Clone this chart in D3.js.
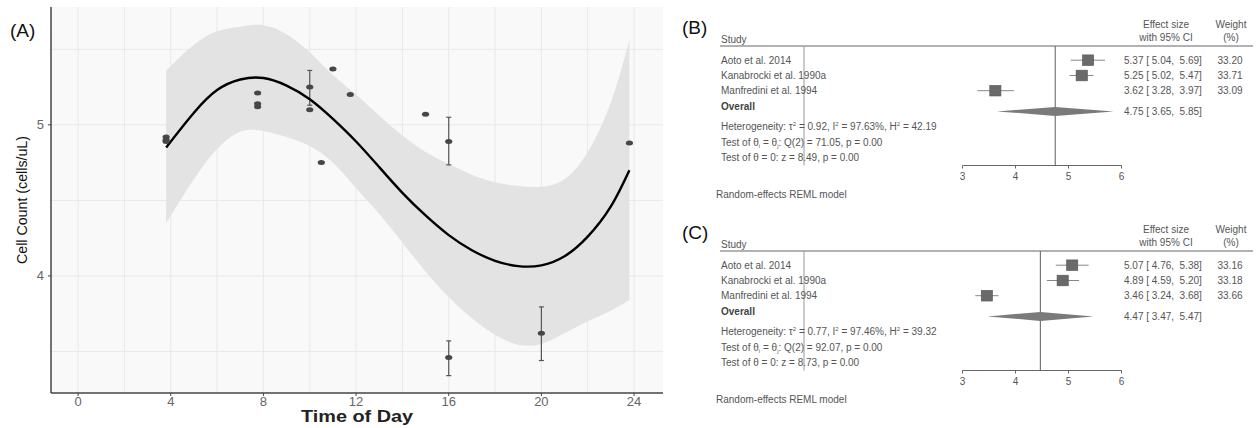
<!DOCTYPE html>
<html>
<head>
<meta charset="utf-8">
<script src="https://cdn.jsdelivr.net/npm/d3@7"></script>
<style>
  body { margin: 0; background: #fff; }
  svg { display: block; font-family: "Liberation Sans", Arial, sans-serif; }
</style>
</head>
<body>
<svg id="chart" width="1256" height="428"></svg>
<script>
// ---- panel A data ----
const hours = [3.8, 5, 6, 7, 8, 9, 10, 11, 12, 13, 14, 15, 16, 17, 18, 19, 20, 21, 22, 23, 23.8];
const fitCount = [4.85, 5.08, 5.23, 5.30, 5.31, 5.26, 5.17, 5.04, 4.89, 4.72, 4.55, 4.40, 4.27, 4.17, 4.10, 4.065, 4.07, 4.13, 4.26, 4.46, 4.70];
const upperCount = [5.36, 5.53, 5.62, 5.65, 5.66, 5.60, 5.48, 5.33, 5.20, 5.06, 4.93, 4.82, 4.74, 4.67, 4.62, 4.595, 4.59, 4.64, 4.82, 5.15, 5.56];
const lowerCount = [4.35, 4.64, 4.84, 4.955, 4.96, 4.92, 4.86, 4.75, 4.58, 4.41, 4.22, 4.03, 3.86, 3.72, 3.61, 3.545, 3.55, 3.62, 3.70, 3.77, 3.84];

const obsTime = [3.8, 3.8, 3.8, 7.75, 7.75, 7.75, 10, 10, 10.5, 11, 11.75, 15, 16, 16, 20, 23.8];
const obsCount = [4.92, 4.90, 4.89, 5.21, 5.14, 5.12, 5.25, 5.10, 4.75, 5.37, 5.20, 5.07, 4.89, 3.46, 3.62, 4.88];
const obsLow = [null, null, null, null, null, null, 5.13, null, null, null, null, null, 4.735, 3.34, 3.44, null];
const obsHigh = [null, null, null, null, null, null, 5.36, null, null, null, null, null, 5.05, 3.57, 3.795, null];

const xTicks = [0, 4, 8, 12, 16, 20, 24];
const yTicks = [4, 5];

// ---- panels B and C data ----
const studies = ["Aoto et al. 2014", "Kanabrocki et al. 1990a", "Manfredini et al. 1994"];
const estB = [5.37, 5.25, 3.62], lowB = [5.04, 5.02, 3.28], highB = [5.69, 5.47, 3.97];
const weightB = [33.20, 33.71, 33.09];
const overallB = [4.75, 3.65, 5.85];
const statsB = ["0.92", "97.63%", "42.19", "71.05", "8.49"];

const estC = [5.07, 4.89, 3.46], lowC = [4.76, 4.59, 3.24], highC = [5.38, 5.20, 3.68];
const weightC = [33.16, 33.18, 33.66];
const overallC = [4.47, 3.47, 5.47];
const statsC = ["0.77", "97.46%", "39.32", "92.07", "8.73"];

const forestTicks = [3, 4, 5, 6];

const svg = d3.select("#chart");

// ================= Panel A =================
const A = { left: 51, right: 663, top: 7, bottom: 393 };
const x = d3.scaleLinear().domain([-1.17, 25.25]).range([A.left, A.right]);
const y = d3.scaleLinear().domain([3.225, 5.78]).range([A.bottom, A.top]);

const gA = svg.append("g");
gA.append("rect")
  .attr("x", A.left).attr("y", A.top)
  .attr("width", A.right - A.left).attr("height", A.bottom - A.top)
  .attr("fill", "#f9f9f9");

// grid (major + minor)
const xGrid = d3.range(0, 26, 2);
const yGrid = [3.5, 4, 4.5, 5, 5.5];
gA.append("g").selectAll("line").data(xGrid).join("line")
  .attr("x1", d => x(d)).attr("x2", d => x(d))
  .attr("y1", A.top).attr("y2", A.bottom)
  .attr("stroke", "#e8e8e8").attr("stroke-width", 1);
gA.append("g").selectAll("line").data(yGrid).join("line")
  .attr("x1", A.left).attr("x2", A.right)
  .attr("y1", d => y(d)).attr("y2", d => y(d))
  .attr("stroke", "#e8e8e8").attr("stroke-width", 1);

// confidence band
const band = hours.map((h, i) => ({ h, lo: lowerCount[i], hi: upperCount[i], fit: fitCount[i] }));
gA.append("path")
  .datum(band)
  .attr("fill", "#e3e3e3")
  .attr("d", d3.area().x(d => x(d.h)).y0(d => y(d.lo)).y1(d => y(d.hi)).curve(d3.curveNatural));

// error bars
const obs = obsTime.map((t, i) => ({ t, v: obsCount[i], lo: obsLow[i], hi: obsHigh[i] }));
const withErr = obs.filter(d => d.lo != null);
const eb = gA.append("g").attr("stroke", "#555").attr("stroke-width", 1.2);
eb.selectAll(".v").data(withErr).join("line")
  .attr("x1", d => x(d.t)).attr("x2", d => x(d.t))
  .attr("y1", d => y(d.lo)).attr("y2", d => y(d.hi));
eb.selectAll(".c1").data(withErr).join("line")
  .attr("x1", d => x(d.t) - 2.5).attr("x2", d => x(d.t) + 2.5)
  .attr("y1", d => y(d.lo)).attr("y2", d => y(d.lo));
eb.selectAll(".c2").data(withErr).join("line")
  .attr("x1", d => x(d.t) - 2.5).attr("x2", d => x(d.t) + 2.5)
  .attr("y1", d => y(d.hi)).attr("y2", d => y(d.hi));

// fitted curve
gA.append("path")
  .datum(band)
  .attr("fill", "none").attr("stroke", "#000").attr("stroke-width", 2.4)
  .attr("d", d3.line().x(d => x(d.h)).y(d => y(d.fit)).curve(d3.curveNatural));

// points
gA.append("g").selectAll("ellipse").data(obs).join("ellipse")
  .attr("cx", d => x(d.t)).attr("cy", d => y(d.v))
  .attr("rx", 3.6).attr("ry", 2.5)
  .attr("fill", "#464646");

// axes
gA.append("line").attr("x1", A.left).attr("x2", A.left).attr("y1", A.top).attr("y2", A.bottom)
  .attr("stroke", "#444").attr("stroke-width", 1.5);
gA.append("line").attr("x1", A.left).attr("x2", A.right).attr("y1", A.bottom).attr("y2", A.bottom)
  .attr("stroke", "#444").attr("stroke-width", 1.5);

const xt = gA.append("g").selectAll("g").data(xTicks).join("g");
xt.append("line").attr("x1", d => x(d)).attr("x2", d => x(d))
  .attr("y1", A.bottom).attr("y2", A.bottom + 3).attr("stroke", "#444");
xt.append("text").attr("x", d => x(d)).attr("y", A.bottom + 13)
  .attr("text-anchor", "middle").attr("font-size", 13).attr("fill", "#666")
  .text(d => d);

const yt = gA.append("g").selectAll("g").data(yTicks).join("g");
yt.append("line").attr("x1", A.left - 3).attr("x2", A.left)
  .attr("y1", d => y(d)).attr("y2", d => y(d)).attr("stroke", "#444");
yt.append("text").attr("x", A.left - 7).attr("y", d => y(d) + 4.5)
  .attr("text-anchor", "end").attr("font-size", 13).attr("fill", "#666")
  .text(d => d);

gA.append("text").attr("x", 301).attr("y", 422)
  .attr("font-size", 16).attr("font-weight", "bold").attr("fill", "#222")
  .attr("textLength", 112).attr("lengthAdjust", "spacingAndGlyphs")
  .text("Time of Day");
gA.append("text").attr("transform", `translate(27,200) rotate(-90)`)
  .attr("text-anchor", "middle").attr("font-size", 15).attr("fill", "#111")
  .attr("textLength", 128).attr("lengthAdjust", "spacingAndGlyphs")
  .text("Cell Count (cells/uL)");
gA.append("text").attr("x", 10).attr("y", 37).attr("font-size", 19).attr("fill", "#111").text("(A)");

// ================= Forest plots =================
const fx = d3.scaleLinear().domain([3, 6]).range([962.5, 1121.5]);
const rowOff = [14.2, 29.5, 44.7];
const overallOff = 64.4;
const statOff = [80, 96, 111.3];
const axisOff = 119.5;

function forest(top, label, est, lo, hi, w, overall, st) {
  const g = svg.append("g").attr("transform", `translate(0,${top})`);
  const fs = 10, col = "#555";

  g.append("text").attr("x", 682).attr("y", -12).attr("font-size", 19).attr("fill", "#111").text(label);
  g.append("text").attr("x", 721).attr("y", -3).attr("font-size", fs).attr("fill", col).text("Study");
  g.append("text").attr("x", 1166).attr("y", -18).attr("text-anchor", "middle").attr("font-size", fs).attr("fill", col).text("Effect size");
  g.append("text").attr("x", 1166).attr("y", -5).attr("text-anchor", "middle").attr("font-size", fs).attr("fill", col).text("with 95% CI");
  g.append("text").attr("x", 1231).attr("y", -18).attr("text-anchor", "middle").attr("font-size", fs).attr("fill", col).text("Weight");
  g.append("text").attr("x", 1231).attr("y", -5).attr("text-anchor", "middle").attr("font-size", fs).attr("fill", col).text("(%)");
  g.append("line").attr("x1", 720).attr("x2", 1253).attr("y1", 0).attr("y2", 0)
    .attr("stroke", "#666").attr("stroke-width", 1.2);

  // vertical reference lines
  g.append("line").attr("x1", 804).attr("x2", 804).attr("y1", 0).attr("y2", axisOff)
    .attr("stroke", "#999").attr("stroke-width", 1);
  g.append("line").attr("x1", fx(overall[0])).attr("x2", fx(overall[0])).attr("y1", 0).attr("y2", axisOff)
    .attr("stroke", "#777").attr("stroke-width", 1.2);

  const rows = studies.map((s, i) => ({ s, e: est[i], lo: lo[i], hi: hi[i], w: w[i], yy: rowOff[i] }));
  const r = g.append("g").selectAll("g").data(rows).join("g");
  r.append("text").attr("x", 721).attr("y", d => d.yy + 3.5).attr("font-size", fs).attr("fill", col).text(d => d.s);
  r.append("line").attr("x1", d => fx(d.lo)).attr("x2", d => fx(d.hi))
    .attr("y1", d => d.yy).attr("y2", d => d.yy).attr("stroke", "#888").attr("stroke-width", 1);
  r.append("rect")
    .attr("x", d => fx(d.e) - Math.sqrt(d.w) * 0.97)
    .attr("y", d => d.yy - Math.sqrt(d.w) * 0.92)
    .attr("width", d => Math.sqrt(d.w) * 1.94)
    .attr("height", d => Math.sqrt(d.w) * 1.84)
    .attr("fill", "#6a6a6a").attr("stroke", "#555").attr("stroke-width", 0.6);
  r.append("text").attr("x", 1124).attr("y", d => d.yy + 3.5).attr("font-size", fs).attr("fill", col)
    .attr("xml:space", "preserve")
    .text(d => `${d.e.toFixed(2)} [ ${d.lo.toFixed(2)},  ${d.hi.toFixed(2)}]`);
  r.append("text").attr("x", 1230).attr("y", d => d.yy + 3.5).attr("text-anchor", "middle")
    .attr("font-size", fs).attr("fill", col).text(d => d.w.toFixed(2));

  // overall
  g.append("text").attr("x", 721).attr("y", overallOff).attr("font-size", fs).attr("font-weight", "bold")
    .attr("fill", "#444").text("Overall");
  const oy = overallOff + 1;
  g.append("path")
    .attr("d", `M${fx(overall[1])},${oy} L${fx(overall[0])},${oy - 4.5} L${fx(overall[2])},${oy} L${fx(overall[0])},${oy + 4.5} Z`)
    .attr("fill", "#7a7a7a");
  g.append("text").attr("x", 1124).attr("y", oy + 3.5).attr("font-size", fs).attr("fill", col)
    .attr("xml:space", "preserve")
    .text(`${overall[0].toFixed(2)} [ ${overall[1].toFixed(2)},  ${overall[2].toFixed(2)}]`);

  // statistics
  const t1 = g.append("text").attr("x", 721).attr("y", statOff[0] + 3.5).attr("font-size", fs).attr("fill", col);
  t1.append("tspan").text("Heterogeneity: τ");
  t1.append("tspan").attr("font-size", 6).attr("dy", -4).text("2");
  t1.append("tspan").attr("dy", 4).text(` = ${st[0]}, I`);
  t1.append("tspan").attr("font-size", 6).attr("dy", -4).text("2");
  t1.append("tspan").attr("dy", 4).text(` = ${st[1]}, H`);
  t1.append("tspan").attr("font-size", 6).attr("dy", -4).text("2");
  t1.append("tspan").attr("dy", 4).text(` = ${st[2]}`);

  const t2 = g.append("text").attr("x", 721).attr("y", statOff[1] + 3.5).attr("font-size", fs).attr("fill", col);
  t2.append("tspan").text("Test of θ");
  t2.append("tspan").attr("font-size", 6).attr("dy", 2).text("i");
  t2.append("tspan").attr("dy", -2).text(" = θ");
  t2.append("tspan").attr("font-size", 6).attr("dy", 2).text("j");
  t2.append("tspan").attr("dy", -2).text(`: Q(2) = ${st[3]}, p = 0.00`);

  g.append("text").attr("x", 721).attr("y", statOff[2] + 3.5).attr("font-size", fs).attr("fill", col)
    .text(`Test of θ = 0: z = ${st[4]}, p = 0.00`);

  // x axis
  g.append("line").attr("x1", fx(3)).attr("x2", fx(6)).attr("y1", axisOff).attr("y2", axisOff)
    .attr("stroke", "#666").attr("stroke-width", 1);
  const ft = g.append("g").selectAll("g").data(forestTicks).join("g");
  ft.append("line").attr("x1", d => fx(d)).attr("x2", d => fx(d))
    .attr("y1", axisOff).attr("y2", axisOff + 3).attr("stroke", "#666");
  ft.append("text").attr("x", d => fx(d)).attr("y", axisOff + 14).attr("text-anchor", "middle")
    .attr("font-size", fs).attr("fill", col).text(d => d);

  g.append("text").attr("x", 716).attr("y", 152).attr("font-size", fs).attr("fill", col)
    .text("Random-effects REML model");
}

forest(46, "(B)", estB, lowB, highB, weightB, overallB, statsB);
forest(251, "(C)", estC, lowC, highC, weightC, overallC, statsC);
</script>
</body>
</html>
